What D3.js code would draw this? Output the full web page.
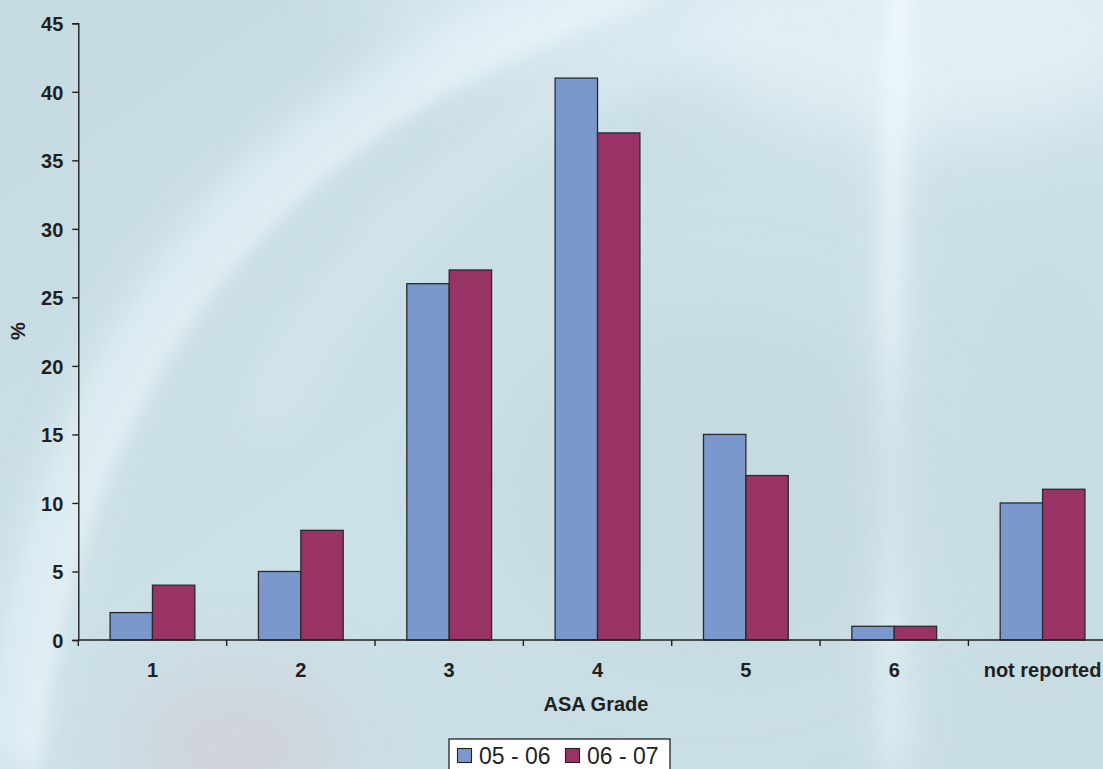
<!DOCTYPE html>
<html>
<head>
<meta charset="utf-8">
<script src="https://cdn.jsdelivr.net/npm/d3@7"></script>
<style>
  html, body { margin: 0; padding: 0; overflow: hidden; background: #c9dfe5; }
  svg { display: block; }
</style>
</head>
<body>
<svg id="chart" width="1103" height="769"></svg>
<script>
// ASA grade distribution, two reporting years
const categories = ["1", "2", "3", "4", "5", "6", "not reported"];
const seriesNames = ["05 - 06", "06 - 07"];
const values0506 = [2, 5, 26, 41, 15, 1, 10];
const values0607 = [4, 8, 27, 37, 12, 1, 11];
const yTicks = [0, 5, 10, 15, 20, 25, 30, 35, 40, 45];
const colors = ["#7b98cd", "#993366"];

const W = 1103, H = 769;
const svg = d3.select("#chart");
const defs = svg.append("defs");

// --- soft bluish backdrop with blurred light streaks ---
const bgGrad = defs.append("linearGradient").attr("id", "bgGrad")
  .attr("x1", 0).attr("y1", 0).attr("x2", 1).attr("y2", 1);
bgGrad.append("stop").attr("offset", 0).attr("stop-color", "#c6dbe1");
bgGrad.append("stop").attr("offset", 0.5).attr("stop-color", "#cbe0e7");
bgGrad.append("stop").attr("offset", 1).attr("stop-color", "#c8dde3");

// vertical fade used by the right-hand streak
const streakGrad = defs.append("linearGradient").attr("id", "streakGrad")
  .attr("gradientUnits", "userSpaceOnUse")
  .attr("x1", 0).attr("y1", 0).attr("x2", 0).attr("y2", H);
streakGrad.append("stop").attr("offset", 0).attr("stop-color", "#f4fbfe").attr("stop-opacity", 0.8);
streakGrad.append("stop").attr("offset", 0.45).attr("stop-color", "#eef8fc").attr("stop-opacity", 0.55);
streakGrad.append("stop").attr("offset", 1).attr("stop-color", "#e6f4f9").attr("stop-opacity", 0.25);

[["blurL", 40], ["blurM", 20], ["blurS", 9]].forEach(([id, s]) => {
  defs.append("filter").attr("id", id)
    .attr("filterUnits", "userSpaceOnUse")
    .attr("x", -200).attr("y", -200).attr("width", W + 400).attr("height", H + 400)
    .append("feGaussianBlur").attr("stdDeviation", s);
});

const bg = svg.append("g");
bg.append("rect").attr("width", W).attr("height", H).attr("fill", "url(#bgGrad)");
// pale top-right glow
bg.append("ellipse").attr("cx", 930).attr("cy", 30).attr("rx", 240).attr("ry", 110)
  .attr("fill", "#f0f9fd").attr("opacity", 0.6).attr("filter", "url(#blurL)");
bg.append("ellipse").attr("cx", 560).attr("cy", 10).attr("rx", 200).attr("ry", 60)
  .attr("fill", "#e6f4fa").attr("opacity", 0.5).attr("filter", "url(#blurL)");
// large sweeping arc from lower left up to the top
bg.append("path").attr("d", "M 10 769 Q 60 150 640 -20")
  .attr("fill", "none").attr("stroke", "#e8f5fb").attr("stroke-width", 55)
  .attr("opacity", 0.7).attr("filter", "url(#blurM)");
bg.append("path").attr("d", "M 30 769 Q 85 170 660 -10")
  .attr("fill", "none").attr("stroke", "#f6fcfe").attr("stroke-width", 12)
  .attr("opacity", 0.5).attr("filter", "url(#blurS)");
// second faint arc in the upper middle
bg.append("path").attr("d", "M 260 420 Q 420 120 760 20")
  .attr("fill", "none").attr("stroke", "#e3f2f8").attr("stroke-width", 40)
  .attr("opacity", 0.45).attr("filter", "url(#blurM)");
// vertical light band on the right, brighter near the top
bg.append("path").attr("d", "M 905 0 Q 880 300 895 769")
  .attr("fill", "none").attr("stroke", "#ecf7fc").attr("stroke-width", 30)
  .attr("opacity", 0.6).attr("filter", "url(#blurM)");
bg.append("path").attr("d", "M 900 -10 Q 884 300 893 780")
  .attr("fill", "none").attr("stroke", "url(#streakGrad)").attr("stroke-width", 16)
  .attr("filter", "url(#blurS)");
// warm blush near the bottom left
bg.append("ellipse").attr("cx", 235).attr("cy", 745).attr("rx", 110).attr("ry", 70)
  .attr("fill", "#d4ced5").attr("opacity", 0.7).attr("filter", "url(#blurL)");
// slightly darker areas
bg.append("ellipse").attr("cx", 700).attr("cy", 480).attr("rx", 220).attr("ry", 180)
  .attr("fill", "#c3d8de").attr("opacity", 0.6).attr("filter", "url(#blurL)");
bg.append("ellipse").attr("cx", 1040).attr("cy", 420).attr("rx", 90).attr("ry", 200)
  .attr("fill", "#c6dce3").attr("opacity", 0.6).attr("filter", "url(#blurL)");

// --- scales ---
const x0 = 78.3, bandStep = 148.35;
const x = d3.scaleBand().domain(categories)
  .range([x0, x0 + bandStep * categories.length]).paddingInner(0).paddingOuter(0);
const xs = d3.scaleBand().domain(seriesNames)
  .range([0, x.bandwidth()]).paddingInner(0).paddingOuter(0.75);
const y = d3.scaleLinear().domain([0, 45]).range([640, 23.3]);

const font = "'Liberation Sans', Arial, sans-serif";
const ink = "#231f20";
const labelSize = 20;

// --- bars ---
const rows = categories.map((c, i) => ({ c, vals: [values0506[i], values0607[i]] }));
const groups = svg.append("g").selectAll("g").data(rows).join("g")
  .attr("transform", d => `translate(${x(d.c)},0)`);
groups.selectAll("rect")
  .data(d => d.vals.map((v, k) => ({ v, s: seriesNames[k], k })))
  .join("rect")
  .attr("x", d => xs(d.s))
  .attr("y", d => y(d.v))
  .attr("width", xs.bandwidth())
  .attr("height", d => y(0) - y(d.v))
  .attr("fill", d => colors[d.k])
  .attr("stroke", "#2a2a2e")
  .attr("stroke-width", 1.3);

// --- y axis ---
const yAxis = svg.append("g").attr("transform", `translate(${x0},0)`)
  .call(d3.axisLeft(y).tickValues(yTicks).tickSize(6).tickPadding(9));
yAxis.select(".domain").attr("stroke", ink).attr("stroke-width", 1.4);
yAxis.selectAll(".tick line").attr("stroke", ink).attr("stroke-width", 1.4);
yAxis.selectAll(".tick text")
  .attr("font-family", font).attr("font-weight", "bold").attr("font-size", labelSize)
  .attr("fill", ink).attr("dy", "0.36em");

// --- x axis: ticks on band boundaries ---
const xAxis = svg.append("g").attr("transform", `translate(0,${y(0)})`);
xAxis.append("line").attr("x1", x0).attr("x2", W + 20)
  .attr("stroke", ink).attr("stroke-width", 1.4);
const bounds = categories.map(c => x(c));
xAxis.selectAll("line.tk").data(bounds).join("line").attr("class", "tk")
  .attr("x1", d => d).attr("x2", d => d).attr("y1", 0).attr("y2", 6)
  .attr("stroke", ink).attr("stroke-width", 1.4);
xAxis.selectAll("text").data(categories).join("text")
  .attr("x", d => x(d) + x.bandwidth() / 2)
  .attr("y", 36.5)
  .attr("text-anchor", "middle")
  .attr("font-family", font).attr("font-weight", "bold").attr("font-size", labelSize)
  .attr("fill", ink).text(d => d);

// --- axis titles ---
svg.append("text")
  .attr("x", 596).attr("y", 711)
  .attr("text-anchor", "middle")
  .attr("font-family", font).attr("font-weight", "bold").attr("font-size", labelSize)
  .attr("fill", ink).text("ASA Grade");
svg.append("text")
  .attr("transform", "translate(25,331) rotate(-90)")
  .attr("text-anchor", "middle")
  .attr("font-family", font).attr("font-weight", "bold").attr("font-size", labelSize)
  .attr("fill", ink).text("%");

// --- legend ---
const legend = svg.append("g").attr("transform", "translate(449,739)");
legend.append("rect").attr("x", 0).attr("y", 0).attr("width", 221).attr("height", 50)
  .attr("fill", "#ffffff").attr("stroke", "#111").attr("stroke-width", 1.2);
const legendX = [8, 116];
const items = legend.selectAll("g.item").data(seriesNames).join("g").attr("class", "item")
  .attr("transform", (d, i) => `translate(${legendX[i]},0)`);
items.append("rect").attr("x", 0.5).attr("y", 9.5).attr("width", 14).attr("height", 14)
  .attr("fill", (d, i) => colors[i]).attr("stroke", "#222").attr("stroke-width", 1.1);
items.append("text").attr("x", 22).attr("y", 25)
  .attr("font-family", font).attr("font-size", 23).attr("fill", ink)
  .text(d => d);
</script>
</body>
</html>
